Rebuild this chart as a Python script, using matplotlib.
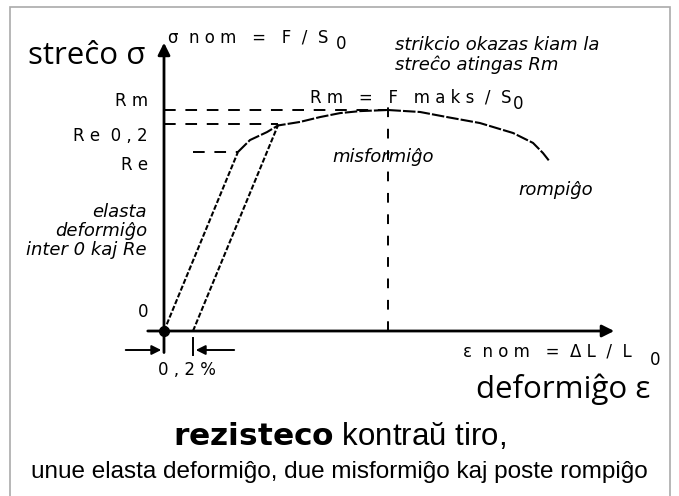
import numpy as np
import matplotlib.pyplot as plt

# stress-strain schematic, strain in %, stress in units where Rm = 100
strain = [0.0, 0.510, 0.593, 0.710, 0.786, 0.938, 1.076, 1.214, 1.352, 1.545,
          1.766, 1.952, 2.179, 2.407, 2.545, 2.614, 2.662]
stress = [0.0, 81.0, 86.4, 90.0, 93.0, 94.6, 96.8, 98.6, 99.5, 100.0,
          99.1, 96.8, 94.1, 89.6, 85.1, 80.5, 76.5]
Rm = 100.0
Re02 = 93.5
Re = 81.0
offset = 0.2          # 0,2 % offset line
strain_Rm = 1.545

W, H = 679, 496
fig = plt.figure(figsize=(6.79, 4.96), dpi=100)
ax = fig.add_axes([0, 0, 1, 1])
ax.set_xlim(-164 / 145, (W - 164) / 145)
ax.set_ylim((331 - H) / 2.21, 331 / 2.21)
ax.axis('off')

def px(x, y):
    return x / W, 1 - y / H

# frame
fig.add_artist(plt.Rectangle(px(10, 497), 660 / W, 490 / H, fill=False,
                             ec='#aaaaaa', lw=1.2, transform=fig.transFigure))

# axes with arrows
ax.annotate('', xy=(0, 131.7), xytext=(0, -11),
            arrowprops=dict(arrowstyle='-|>', lw=2, color='k', mutation_scale=18))
ax.annotate('', xy=(3.124, 0), xytext=(-0.131, 0),
            arrowprops=dict(arrowstyle='-|>', lw=2, color='k', mutation_scale=18))
ax.plot([0], [0], 'o', color='k', ms=7)

# curve and 0,2 % offset line
ax.plot(strain[:2], stress[:2], color='k', lw=1.5, ls=(0, (2.5, 1)))
ax.plot(strain[1:], stress[1:], color='k', lw=1.5, ls=(0, (6, 1)))
slope = Re / strain[1]
ax.plot([offset, offset + Re02 / slope], [0, Re02], color='k', lw=1.5, ls=(0, (2.5, 1)))

# dashed reference levels
dash = (0, (6, 5))
ax.plot([0, strain_Rm], [Rm, Rm], color='k', lw=1.4, ls=dash)
ax.plot([0, offset + Re02 / slope], [Re02, Re02], color='k', lw=1.4, ls=dash)
ax.plot([offset, strain[1]], [Re, Re], color='k', lw=1.4, ls=dash)
ax.plot([strain_Rm, strain_Rm], [0, 104.5], color='k', lw=1.4, ls=(0, (5, 6)))

# 0,2 % dimension
ax.plot([offset, offset], [-3, -11], color='k', lw=1.4)
ax.annotate('', xy=(0, -8.6), xytext=(-0.283, -8.6),
            arrowprops=dict(arrowstyle='-|>', lw=1.4, color='k', mutation_scale=14))
ax.annotate('', xy=(offset, -8.6), xytext=(0.503, -8.6),
            arrowprops=dict(arrowstyle='-|>', lw=1.4, color='k', mutation_scale=14))

# texts
big = dict(family='Open Sans', fontsize=22.5)
fig.text(*px(28, 64), 'streĉo σ', va='baseline', ha='left', **big)
fig.text(*px(650, 398), 'deformiĝo ε', va='baseline', ha='right', **big)

pix = dict(family='DejaVu Sans', fontsize=12)
fig.text(*px(148, 101), 'R m', ha='right', va='center', **pix)
fig.text(*px(148, 136), 'R e  0 , 2', ha='right', va='center', **pix)
fig.text(*px(148, 165), 'R e', ha='right', va='center', **pix)
fig.text(*px(148, 312), '0', ha='right', va='center', **pix)
fig.text(*px(187, 370), '0 , 2 %', ha='center', va='center', **pix)
fig.text(*px(168, 37), 'σ  n o m   =   F  /  S', ha='left', va='center', **pix)
fig.text(*px(336, 44), '0', ha='left', va='center', **pix)
fig.text(*px(310, 97), 'R m   =   F   m a k s  /  S', ha='left', va='center', **pix)
fig.text(*px(513, 104), '0', ha='left', va='center', **pix)
fig.text(*px(463, 352), 'ε  n o m   =  Δ L  /  L', ha='left', va='center', **pix)
fig.text(*px(650, 360), '0', ha='left', va='center', **pix)

it = dict(family='DejaVu Sans', style='italic', fontsize=13)
fig.text(*px(395, 55), 'strikcio okazas kiam la\nstreĉo atingas Rm', ha='left',
         va='center', linespacing=1.05, **it)
fig.text(*px(332, 157), 'misformiĝo', ha='left', va='center', **it)
fig.text(*px(518, 190), 'rompiĝo', ha='left', va='center', **it)
fig.text(*px(147, 231), 'elasta\ndeformiĝo\ninter 0 kaj Re', ha='right',
         va='center', multialignment='right', linespacing=1.05, **it)

fig.text(*px(340, 445), r'$\bf{rezisteco}$ kontraŭ tiro,', ha='center', va='baseline',
         family='Liberation Sans', fontsize=22.5)
fig.text(*px(339, 478), 'unue elasta deformiĝo, due misformiĝo kaj poste rompiĝo',
         ha='center', va='baseline', family='Liberation Sans', fontsize=17.5)

fig.savefig('out.png', dpi=100)
